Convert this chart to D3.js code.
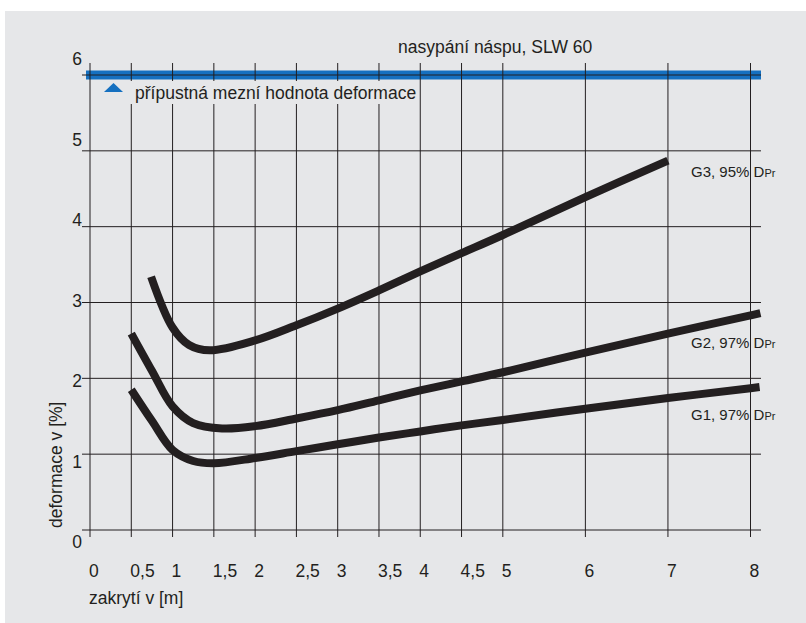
<!DOCTYPE html>
<html><head><meta charset="utf-8">
<script src="https://cdn.jsdelivr.net/npm/d3@7/dist/d3.min.js"></script>
<style>
html,body{margin:0;padding:0;background:#fff;}
svg{display:block;font-family:"Liberation Sans",Arial,sans-serif;}
</style></head>
<body><svg id="c" width="806" height="623"></svg>
<script>
// ---- data ----
const xTicks = [0,0.5,1,1.5,2,2.5,3,3.5,4,4.5,5,6,7,8];
const xTickLabels = ["0","0,5","1","1,5","2","2,5","3","3,5","4","4,5","5","6","7","8"];
const yTicks = [0,1,2,3,4,5,6];
const yTickLabels = ["0","1","2","3","4","5","6"];
const limitValue = 6;
const limitLabel = "přípustná mezní hodnota deformace";
const topLabel = "nasypání náspu, SLW 60";
const xTitle = "zakrytí v [m]";
const yTitle = "deformace v [%]";

const g3X = [0.74,1.0,1.2,1.45,2.0,2.5,3.0,3.5,4.0,4.5,5.0,6.0,7.0];
const g3Y = [3.34,2.67,2.44,2.37,2.50,2.70,2.92,3.16,3.41,3.65,3.89,4.39,4.87];
const g2X = [0.5,0.75,1.0,1.25,1.6,2.0,2.5,3.0,3.5,4.0,4.5,5.0,6.0,7.0,8.0,8.12];
const g2Y = [2.59,2.10,1.63,1.41,1.34,1.37,1.47,1.58,1.71,1.84,1.96,2.08,2.34,2.59,2.83,2.86];
const g1X = [0.5,0.75,1.0,1.25,1.5,2.0,2.5,3.0,3.5,4.0,4.5,5.0,6.0,7.0,8.0,8.11];
const g1Y = [1.85,1.44,1.055,0.91,0.88,0.95,1.04,1.13,1.22,1.30,1.38,1.45,1.60,1.74,1.87,1.885];
const seriesNames = ["G3, 95% D","G2, 97% D","G1, 97% D"];
const seriesSub = ["Pr","Pr","Pr"];

// ---- drawing ----
const svg = d3.select("#c");
const ink = "#231f20";
const blue = "#1570c0";
const bg = "#e6e7e9";

svg.append("rect").attr("x",5).attr("y",11).attr("width",801).attr("height",612).attr("fill",bg);

const x = d3.scaleLinear().domain([0,8]).range([90,750.5]);
const y = d3.scaleLinear().domain([0,6]).range([530,75]);
const yLab = d3.scaleLinear().domain([0,6]).range([548.3,65]);

// limit band
svg.append("line").attr("x1",86).attr("x2",761)
  .attr("y1",y(limitValue)).attr("y2",y(limitValue))
  .attr("stroke",blue).attr("stroke-width",9);

// grid
const grid = svg.append("g").attr("stroke",ink).attr("stroke-width",1);
grid.selectAll("line.v").data(xTicks).join("line").attr("class","v")
  .attr("x1",d=>x(d)).attr("x2",d=>x(d)).attr("y1",y(6)-12).attr("y2",y(0)+7);
grid.selectAll("line.h").data(yTicks).join("line").attr("class","h")
  .attr("y1",d=>y(d)).attr("y2",d=>y(d)).attr("x1",x(0)-8).attr("x2",761);

// limit legend box & label
svg.append("rect").attr("x",96).attr("y",81).attr("width",322).attr("height",23).attr("fill",bg);
svg.append("path").attr("d","M104,92 L123,92 L113.5,83 Z").attr("fill",blue);
svg.append("text").attr("x",135).attr("y",99).attr("font-size",17.5).attr("fill",ink).text(limitLabel);
svg.append("text").attr("x",398).attr("y",53).attr("font-size",17.5).attr("fill",ink).text(topLabel);

// tick labels
svg.selectAll("text.xt").data(xTicks).join("text").attr("class","xt")
  .attr("x",d=>x(d)-1).attr("y",576.7).attr("font-size",17.5).attr("fill",ink)
  .text((d,i)=>xTickLabels[i]);
svg.selectAll("text.yt").data(yTicks).join("text").attr("class","yt")
  .attr("x",82).attr("y",d=>yLab(d)).attr("text-anchor","end").attr("font-size",17.5).attr("fill",ink)
  .text((d,i)=>yTickLabels[i]);

svg.append("text").attr("x",89).attr("y",604).attr("font-size",17.5).attr("fill",ink).text(xTitle);
svg.append("text").attr("transform","translate(61.5,528) rotate(-90)").attr("font-size",17.5).attr("fill",ink).text(yTitle);

// curves
const line = d3.line().x(d=>x(d[0])).y(d=>y(d[1])).curve(d3.curveCatmullRom.alpha(0.5));
const series = [d3.zip(g3X,g3Y), d3.zip(g2X,g2Y), d3.zip(g1X,g1Y)];
svg.selectAll("path.s").data(series).join("path").attr("class","s")
  .attr("d",line).attr("fill","none").attr("stroke",ink).attr("stroke-width",8)
  .attr("stroke-linecap","butt").attr("stroke-linejoin","round");

// series labels
const labY = [177.3,348.3,420];
seriesNames.forEach((n,i)=>{
  const t = svg.append("text").attr("x",691).attr("y",labY[i]).attr("font-size",15).attr("fill",ink);
  t.append("tspan").text(n);
  t.append("tspan").attr("font-size",11).text(seriesSub[i]);
});
</script></body></html>
